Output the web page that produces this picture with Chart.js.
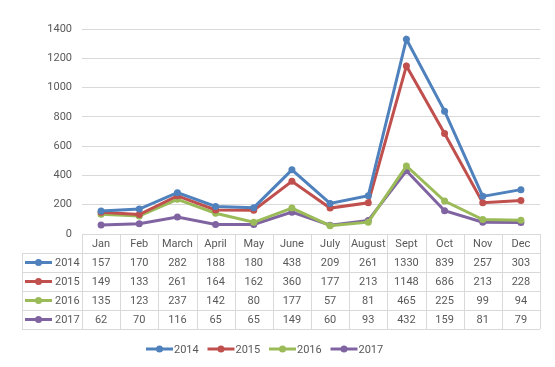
<!DOCTYPE html>
<html>
<head>
<meta charset="utf-8">
<script src="https://cdn.jsdelivr.net/npm/chart.js@4/dist/chart.umd.min.js"></script>
<style>
  html, body { margin: 0; padding: 0; background: #fff; }
  #wrap { width: 555px; height: 367px; }
</style>
</head>
<body>
<div id="wrap"><canvas id="chart" width="555" height="367"></canvas></div>
<script>
const months = ['Jan', 'Feb', 'March', 'April', 'May', 'June', 'July', 'August', 'Sept', 'Oct', 'Nov', 'Dec'];
const years = ['2014', '2015', '2016', '2017'];
const values2014 = [157, 170, 282, 188, 180, 438, 209, 261, 1330, 839, 257, 303];
const values2015 = [149, 133, 261, 164, 162, 360, 177, 213, 1148, 686, 213, 228];
const values2016 = [135, 123, 237, 142, 80, 177, 57, 81, 465, 225, 99, 94];
const values2017 = [62, 70, 116, 65, 65, 149, 60, 93, 432, 159, 81, 79];
const yMin = 0;
const yMax = 1400;
const yStep = 200;

const seriesValues = [values2014, values2015, values2016, values2017];
const colors = ['#4F81BD', '#C0504D', '#9BBB59', '#8064A2'];
const textColor = '#595959';
const gridColor = '#D9D9D9';
const fontFamily = 'Roboto, "Liberation Sans", sans-serif';

function drawMarker(ctx, x, y, color) {
    ctx.strokeStyle = color;
    ctx.lineWidth = 3;
    ctx.beginPath();
    ctx.moveTo(x, y);
    ctx.lineTo(x + 27, y);
    ctx.stroke();
    ctx.fillStyle = color;
    ctx.beginPath();
    ctx.arc(x + 13.5, y, 3.5, 0, Math.PI * 2);
    ctx.fill();
}

// data table + legend under the plot
const tablePlugin = {
    id: 'dataTable',
    afterDraw(chart) {
        const ctx = chart.ctx;
        const xs = chart.scales.x;
        const area = chart.chartArea;
        const colW = xs.getPixelForValue(1) - xs.getPixelForValue(0);
        const rowH = 19;
        const top = area.bottom;
        const labelLeft = 22;
        const bottom = top + rowH * (years.length + 1);

        ctx.save();
        ctx.strokeStyle = gridColor;
        ctx.lineWidth = 1;
        ctx.beginPath();
        // horizontal lines
        ctx.moveTo(area.left, top + 0.5);
        ctx.lineTo(area.right, top + 0.5);
        for (let r = 1; r <= years.length + 1; r++) {
            const y = Math.round(top + r * rowH) + 0.5;
            ctx.moveTo(labelLeft, y);
            ctx.lineTo(area.right, y);
        }
        // vertical lines
        for (let c = 0; c <= months.length; c++) {
            const x = Math.round(area.left + c * colW) + 0.5;
            ctx.moveTo(x, top);
            ctx.lineTo(x, bottom);
        }
        ctx.moveTo(labelLeft + 0.5, top + rowH);
        ctx.lineTo(labelLeft + 0.5, bottom);
        ctx.stroke();

        ctx.font = '11px ' + fontFamily;
        ctx.fillStyle = textColor;
        ctx.textBaseline = 'middle';
        ctx.textAlign = 'center';
        months.forEach((m, i) => {
            ctx.fillText(m, xs.getPixelForValue(i), top + rowH / 2 + 1);
        });
        seriesValues.forEach((vals, r) => {
            const y = top + rowH * (r + 1) + rowH / 2 + 1;
            ctx.fillStyle = textColor;
            ctx.textAlign = 'center';
            vals.forEach((v, i) => {
                ctx.fillText(String(v), xs.getPixelForValue(i), y);
            });
            drawMarker(ctx, 25, y - 1, colors[r]);
            ctx.fillStyle = textColor;
            ctx.textAlign = 'left';
            ctx.fillText(years[r], 55, y);
        });

        // legend
        const legendY = 349;
        const itemW = 61.5;
        const startX = 146;
        years.forEach((yr, i) => {
            const x = startX + i * itemW;
            drawMarker(ctx, x, legendY, colors[i]);
            ctx.fillStyle = textColor;
            ctx.textAlign = 'left';
            ctx.fillText(yr, x + 28, legendY + 1);
        });
        ctx.restore();
    }
};

const datasets = years.map((yr, i) => ({
    label: yr,
    data: seriesValues[i],
    borderColor: colors[i],
    backgroundColor: colors[i],
    borderWidth: 3,
    pointRadius: 3.5,
    pointHoverRadius: 3.5,
    pointBorderWidth: 0,
    tension: 0
}));

new Chart(document.getElementById('chart'), {
    type: 'line',
    data: { labels: months, datasets: datasets },
    options: {
        responsive: false,
        animation: false,
        events: [],
        layout: { padding: { top: 29, right: 15, left: 0, bottom: 0 } },
        plugins: {
            legend: { display: false },
            tooltip: { enabled: false }
        },
        scales: {
            x: {
                offset: true,
                ticks: { display: false },
                grid: { display: false },
                border: { display: false },
                afterFit(scale) { scale.height = 133; }
            },
            y: {
                min: yMin,
                max: yMax,
                ticks: {
                    stepSize: yStep,
                    color: textColor,
                    font: { family: fontFamily, size: 11 },
                    padding: 10,
                    callback: v => String(v)
                },
                grid: { color: gridColor, drawTicks: false },
                border: { display: false },
                afterFit(scale) { scale.width = 82; }
            }
        }
    },
    plugins: [tablePlugin]
});
</script>
</body>
</html>
